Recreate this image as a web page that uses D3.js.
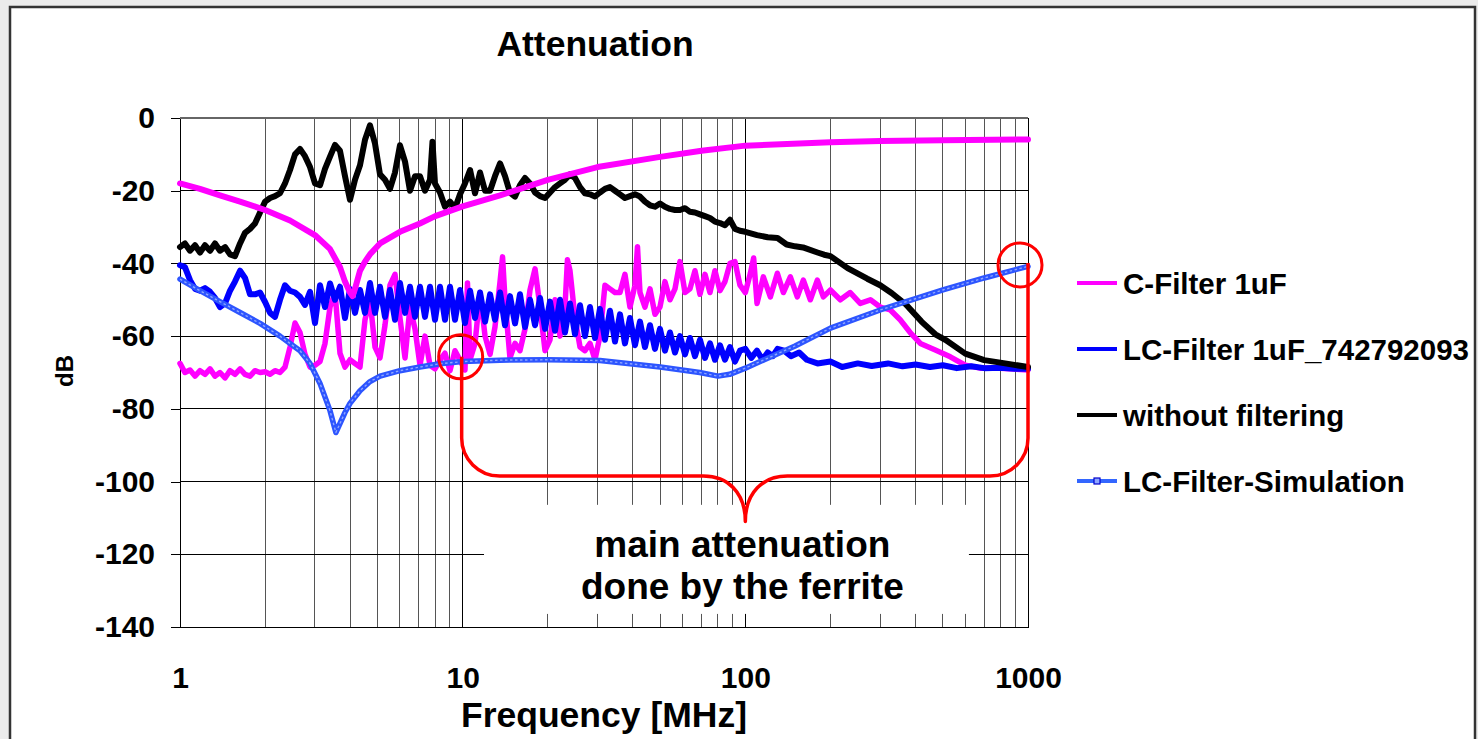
<!DOCTYPE html>
<html><head><meta charset="utf-8">
<script src="https://cdnjs.cloudflare.com/ajax/libs/d3/7.8.5/d3.min.js"></script>
<style>
body{margin:0;background:#ebebeb;}
svg{display:block;font-family:"Liberation Sans",Arial,sans-serif;font-weight:bold;}
</style></head>
<body><svg id="chart" width="1478" height="739"></svg>
<script>
// ---------- data (frequency in MHz, attenuation in dB) ----------
const seriesNames = ["C-Filter 1uF", "LC-Filter 1uF_742792093", "without filtering", "LC-Filter-Simulation"];
const yTickValues = [0, -20, -40, -60, -80, -100, -120, -140];
const xTickLabels = [1, 10, 100, 1000];

const cFilterMeasured = [[1,-67.5],[1.041,-70],[1.085,-69.3],[1.13,-71],[1.177,-69.5],[1.226,-70.5],[1.277,-69],[1.33,-71],[1.385,-70],[1.443,-71.5],[1.503,-69.5],[1.565,-70.5],[1.631,-69],[1.698,-70.5],[1.769,-71],[1.842,-69.5],[1.919,-70],[2.0,-69.8],[2.082,-70.5],[2.168,-69.5],[2.258,-70],[2.352,-68.5],[2.45,-63],[2.552,-56.4],[2.658,-59],[2.768,-65],[2.884,-68.5],[3.003,-68],[3.128,-67],[3.258,-62],[3.394,-52],[3.535,-48],[3.681,-64.7],[3.834,-68.5],[3.994,-66.5],[4.16,-67.5],[4.333,-68.5],[4.513,-55.5],[4.7,-50],[4.896,-63],[5.099,-66],[5.311,-57],[5.532,-46],[5.762,-43],[6.001,-55],[6.252,-66],[6.511,-52],[6.782,-58],[7.063,-68],[7.357,-60],[7.663,-68],[7.981,-69],[8.313,-66.6],[8.659,-64.7],[9.019,-69.5],[9.394,-64],[9.786,-66.6],[10.19,-69.3],[10.4,-45.4],[10.62,-66.5],[11.06,-62],[11.52,-48],[12.0,-60],[12.5,-65],[13.01,-57.5],[13.56,-45],[13.84,-38.2],[14.12,-50],[14.7,-66],[15.32,-62],[15.95,-64],[16.62,-58],[17.31,-47.3],[18.03,-41.5],[18.78,-52],[19.56,-64],[20.37,-61],[21.22,-50],[22.1,-60],[23.01,-52],[23.48,-39],[23.97,-42],[24.97,-55],[26.01,-63],[27.08,-64],[28.21,-62],[29.38,-66.5],[30.6,-60],[31.87,-46],[33.2,-47],[34.58,-48],[36.02,-48],[37.51,-43],[39.07,-52],[40.7,-46],[41.54,-35.4],[42.39,-48],[44.15,-52],[45.99,-47],[47.9,-54],[49.89,-52],[51.96,-45],[54.12,-50],[56.37,-47],[58.72,-39.5],[61.16,-48],[63.7,-47],[66.35,-42],[69.11,-48.5],[71.98,-43],[74.97,-48],[78.09,-42],[81.33,-47.5],[84.71,-45],[88.24,-40],[91.91,-39.5],[95.74,-46],[100,-48],[104.2,-42.7],[107,-38.5],[110,-51],[115.8,-43.7],[122.6,-49.2],[129.8,-42.7],[136.3,-48],[144.3,-43.7],[152.7,-49.2],[160.4,-44.6],[169.8,-50],[179.8,-44.6],[188.8,-49.2],[200,-47.3],[216.8,-50],[235,-48],[255,-51],[277,-50],[300,-52],[326,-52.8],[353,-55.5],[383,-59],[416,-62],[470,-63.8],[531,-65.7],[600,-68],[678,-68.8],[798,-68.8],[1000,-69.3]];

const lcFilterMeasured = [[1,-40.5],[1.041,-41],[1.085,-44.6],[1.13,-47],[1.177,-47.5],[1.226,-46.8],[1.277,-47.8],[1.33,-49.5],[1.385,-52],[1.443,-51],[1.503,-47.5],[1.565,-45],[1.631,-42],[1.698,-44],[1.769,-48.5],[1.842,-48.5],[1.919,-48],[2.0,-50.6],[2.082,-53.6],[2.168,-54.7],[2.258,-50],[2.352,-46],[2.45,-47.5],[2.552,-48],[2.658,-49.2],[2.768,-51.4],[2.884,-47.8],[3.003,-56.4],[3.128,-46],[3.258,-52],[3.394,-45.5],[3.535,-50],[3.681,-46.4],[3.834,-55],[3.994,-47],[4.16,-53.6],[4.333,-47.3],[4.513,-53.6],[4.7,-45.4],[4.896,-53.6],[5.099,-46.4],[5.311,-54.7],[5.532,-47.3],[5.762,-55.5],[6.001,-45.4],[6.252,-53.6],[6.511,-46.4],[6.782,-54.7],[7.063,-46.4],[7.357,-54.7],[7.663,-46.4],[7.981,-55.5],[8.313,-46.4],[8.659,-55.5],[9.019,-46.4],[9.394,-55.5],[9.786,-47.3],[10.19,-56.4],[10.62,-47.5],[11.06,-55],[11.52,-48],[12.0,-56],[12.5,-48.5],[13.01,-55.5],[13.56,-48],[14.12,-57],[14.7,-49],[15.32,-56.5],[15.95,-48.5],[16.62,-57.5],[17.31,-50],[18.03,-57],[18.78,-49.5],[19.56,-58],[20.37,-50.5],[21.22,-58.5],[22.1,-50],[23.01,-59],[23.97,-51],[24.97,-59.5],[26.01,-51.5],[27.08,-60],[28.21,-52],[29.38,-60.5],[30.6,-52.5],[31.87,-61],[33.2,-53],[34.58,-61.5],[36.02,-54],[37.51,-62],[39.07,-55],[40.7,-62.5],[42.39,-56],[44.15,-63],[45.99,-57],[47.9,-63.5],[49.89,-58],[51.96,-64],[54.12,-59],[56.37,-64.5],[58.72,-60],[61.16,-65],[63.7,-60.5],[66.35,-65.5],[69.11,-61],[71.98,-66],[74.97,-62],[78.09,-66.5],[81.33,-62.5],[84.71,-66.5],[88.24,-63],[91.91,-67],[95.74,-64],[100,-63.5],[105,-66],[110,-64],[115,-66.5],[120,-64.5],[125,-65.5],[130,-63.5],[137,-64],[145,-65.5],[155,-64.5],[165,-66.5],[180,-67.5],[200,-67],[220,-68.5],[250,-67.5],[280,-68.2],[320,-67.5],[360,-68.3],[400,-67.8],[450,-68.5],[500,-68],[560,-68.8],[630,-68.3],[700,-68.8],[800,-68.7],[900,-69],[1000,-69]];

const withoutFiltering = [[1,-35.5],[1.041,-34.5],[1.085,-36.5],[1.13,-35],[1.177,-37],[1.226,-35],[1.277,-36.5],[1.33,-34.5],[1.385,-36.5],[1.443,-35.5],[1.503,-37.5],[1.565,-38],[1.631,-34.5],[1.698,-31.6],[1.769,-30.5],[1.842,-29],[1.919,-26],[2.0,-23],[2.082,-22],[2.168,-21.5],[2.258,-20.7],[2.352,-18],[2.45,-14.3],[2.552,-10],[2.658,-8.5],[2.768,-10.5],[2.884,-13.5],[3.003,-18],[3.128,-18.5],[3.258,-14],[3.394,-10.6],[3.535,-7.4],[3.681,-9],[3.834,-16],[3.994,-22.5],[4.16,-17],[4.333,-13],[4.513,-6],[4.7,-2],[4.896,-7],[5.099,-15.5],[5.311,-17],[5.532,-19.5],[5.762,-15],[6.001,-7.5],[6.252,-12],[6.511,-20],[6.782,-16],[7.063,-16],[7.357,-20],[7.663,-17],[7.82,-6.5],[7.981,-18],[8.313,-20.5],[8.659,-24.4],[9.019,-23],[9.394,-24.8],[9.786,-21],[10.19,-18],[10.62,-14.3],[11.06,-20.7],[11.52,-15],[12.0,-20],[12.5,-20],[13.01,-16],[13.56,-12.5],[14.12,-16],[14.7,-20.5],[15.32,-21.6],[15.95,-18.5],[16.62,-16.5],[17.31,-18],[18.03,-20.5],[18.78,-21.5],[19.56,-22],[20.37,-20.5],[21.22,-19],[22.1,-18],[23.01,-17],[23.97,-15.5],[24.97,-16.5],[26.01,-19],[27.08,-20.7],[28.21,-21],[29.38,-21.6],[30.6,-20.5],[31.87,-19.5],[33.2,-19],[34.58,-20],[36.02,-21],[37.51,-22],[39.07,-21.5],[40.7,-21],[42.39,-21.6],[44.15,-23],[45.99,-24],[47.9,-24.4],[49.89,-23.5],[51.96,-24.4],[54.12,-25],[56.37,-25.3],[58.72,-25.3],[61.16,-24.8],[63.7,-25.8],[66.35,-26],[69.11,-26.5],[71.98,-27],[74.97,-27.5],[78.09,-28.5],[81.33,-28.9],[84.71,-29.5],[88.24,-28],[91.91,-30.5],[95.74,-31],[100,-31.3],[110,-32.2],[120,-32.8],[130,-33],[140,-34.8],[150,-35.3],[160,-35.6],[180,-37],[190,-37.6],[200,-38],[230,-41.3],[270,-44.2],[300,-46],[330,-48.2],[370,-51.3],[420,-56],[470,-59.5],[510,-61],[600,-64.8],[700,-66.6],[830,-67.5],[1000,-68.5]];

const cFilterSimulation = [[1,-18],[1.177,-19.5],[1.385,-21.3],[1.631,-23],[2.0,-25.3],[2.45,-28.2],[3.0,-32.2],[3.39,-36],[3.68,-41],[3.834,-45],[3.994,-48],[4.08,-49],[4.16,-47],[4.333,-42],[4.513,-39.5],[4.7,-37.5],[5.1,-34.5],[6.0,-31.3],[7.06,-29],[8.0,-27],[10,-24.3],[13.56,-21.3],[20,-17],[30,-13.5],[50,-10.7],[70,-9],[100,-7.6],[200,-6.7],[300,-6.3],[500,-6.1],[1000,-5.9]];

const lcFilterSimulation = [[1,-44.3],[1.177,-47.5],[1.385,-50.5],[1.631,-53.5],[1.919,-56.5],[2.258,-60],[2.658,-64],[2.884,-67.5],[3.128,-73],[3.394,-80.5],[3.56,-86.5],[3.834,-81],[3.994,-78.5],[4.333,-75],[4.7,-72.5],[5.1,-71],[6.0,-69.5],[7.06,-68.5],[8.31,-67.6],[10,-67],[13.56,-66.6],[20,-66.5],[30.6,-66.7],[50,-68.5],[69,-70],[80,-71],[88,-70.5],[100,-68.8],[150,-62.7],[200,-57.8],[300,-52.8],[500,-47.3],[700,-44],[1000,-40.8]];

// ---------- drawing ----------
const svg = d3.select("#chart");
const x = d3.scaleLog().domain([1, 1000]).range([180, 1028]);
const y = d3.scaleLinear().domain([-140, 0]).range([627, 118]);

// panel
svg.append("rect").attr("x", 10).attr("y", 7).attr("width", 1465).attr("height", 760)
  .attr("fill", "#fff").attr("stroke", "#333").attr("stroke-width", 2.5);

// gridlines
const grid = svg.append("g").attr("shape-rendering", "crispEdges");
grid.selectAll("line.v").data(x.ticks()).join("line")
  .attr("x1", d => x(d)).attr("x2", d => x(d)).attr("y1", y(0)).attr("y2", y(-140))
  .attr("stroke", d => (Math.log10(d) % 1 === 0) ? "#000" : "#555").attr("stroke-width", 1);
grid.selectAll("line.h").data(yTickValues).join("line")
  .attr("x1", x(1)).attr("x2", x(1000)).attr("y1", d => y(d)).attr("y2", d => y(d))
  .attr("stroke", d => d === 0 ? "#666" : "#000").attr("stroke-width", d => d === 0 ? 2 : 1);

// white box behind annotation text
svg.append("rect").attr("x", x(11.9)).attr("y", y(-106.4))
  .attr("width", x(618) - x(11.9)).attr("height", y(-136.4) - y(-106.4)).attr("fill", "#fff");

// axes
const yAxis = d3.axisLeft(y).tickValues(yTickValues).tickSize(9).tickSizeOuter(0).tickPadding(16)
  .tickFormat(d => String(d));
const gy = svg.append("g").attr("transform", `translate(${x(1)},0)`).call(yAxis);
gy.selectAll("text").attr("font-size", 30).attr("fill", "#000").attr("font-family", "Liberation Sans, Arial, sans-serif").attr("font-weight", "bold");
gy.selectAll("line, path").attr("stroke", "#000").attr("shape-rendering", "crispEdges");

const xAxis = d3.axisBottom(x).tickValues(xTickLabels).tickSize(0).tickSizeOuter(0).tickPadding(40)
  .tickFormat(d => String(d));
const gx = svg.append("g").attr("transform", `translate(0,${y(-140)})`).call(xAxis);
gx.selectAll("text").attr("font-size", 30).attr("fill", "#000").attr("font-family", "Liberation Sans, Arial, sans-serif").attr("font-weight", "bold");
gx.selectAll("path").attr("stroke", "#000").attr("shape-rendering", "crispEdges");

// line generator
const line = d3.line().x(d => x(d[0])).y(d => y(d[1]));
function drawLine(data, color, width) {
  return svg.append("path").datum(data).attr("d", line).attr("fill", "none")
    .attr("stroke", color).attr("stroke-width", width)
    .attr("stroke-linejoin", "round").attr("stroke-linecap", "round");
}
drawLine(cFilterMeasured, "#ff00ff", 5.5);
drawLine(lcFilterMeasured, "#0000ff", 6);
drawLine(withoutFiltering, "#000000", 6);
drawLine(cFilterSimulation, "#ff00ff", 6);
drawLine(lcFilterSimulation, "#2d55ff", 5.5);
drawLine(lcFilterSimulation, "#8fa6ff", 1.4).attr("stroke-dasharray", "2.5,2.5").attr("stroke-linecap", "butt");

// red annotations
const red = "#ff0000";
const c1 = [x(10) - 2, y(-65.7)], c2 = [x(937), y(-40.4)];
svg.append("circle").attr("cx", c1[0]).attr("cy", c1[1]).attr("r", 22)
  .attr("fill", "none").attr("stroke", red).attr("stroke-width", 3);
svg.append("circle").attr("cx", c2[0]).attr("cy", c2[1]).attr("r", 22)
  .attr("fill", "none").attr("stroke", red).attr("stroke-width", 3);
const xl = x(10) - 1, xr = x(1000), xm = x(100), yh = y(-98.5), yc = y(-111), r = 38;
const brace = `M${xl},${c1[1]} L${xl},${yh - r} A${r},${r} 0 0 0 ${xl + r},${yh}
  L${xm - 42},${yh} C${xm - 18},${yh} ${xm},${yh + 16} ${xm},${yc}
  C${xm},${yh + 16} ${xm + 18},${yh} ${xm + 42},${yh}
  L${xr - r},${yh} A${r},${r} 0 0 0 ${xr},${yh - r} L${xr},${c2[1] - 2}`;
svg.append("path").attr("d", brace).attr("fill", "none").attr("stroke", red)
  .attr("stroke-width", 3.5).attr("stroke-linejoin", "round");

svg.append("text").attr("x", xm - 3).attr("y", y(-120.7)).attr("text-anchor", "middle")
  .attr("font-size", 37).text("main attenuation");
svg.append("text").attr("x", xm - 3).attr("y", y(-132.4)).attr("text-anchor", "middle")
  .attr("font-size", 37).text("done by the ferrite");

// titles
svg.append("text").attr("x", 595).attr("y", 56).attr("text-anchor", "middle")
  .attr("font-size", 35.5).text("Attenuation");
svg.append("text").attr("x", 604).attr("y", 727).attr("text-anchor", "middle")
  .attr("font-size", 35.5).text("Frequency [MHz]");
svg.append("text").attr("transform", "translate(73,371) rotate(-90)").attr("text-anchor", "middle")
  .attr("font-size", 24).text("dB");

// legend
const legendColors = ["#ff00ff", "#0000ff", "#000000", "#3366ff"];
const lg = svg.append("g");
seriesNames.forEach((name, i) => {
  const cy = 283 + i * 66;
  lg.append("line").attr("x1", 1077).attr("x2", 1117).attr("y1", cy).attr("y2", cy)
    .attr("stroke", legendColors[i]).attr("stroke-width", 4);
  if (i === 3) {
    lg.append("rect").attr("x", 1094).attr("y", cy - 3).attr("width", 6).attr("height", 6)
      .attr("fill", "#8fa6ff").attr("stroke", "#0000cc").attr("stroke-width", 1.2);
  }
  lg.append("text").attr("x", 1123).attr("y", cy + 10.5).attr("font-size", 29.5).text(name);
});
</script>
</body></html>
